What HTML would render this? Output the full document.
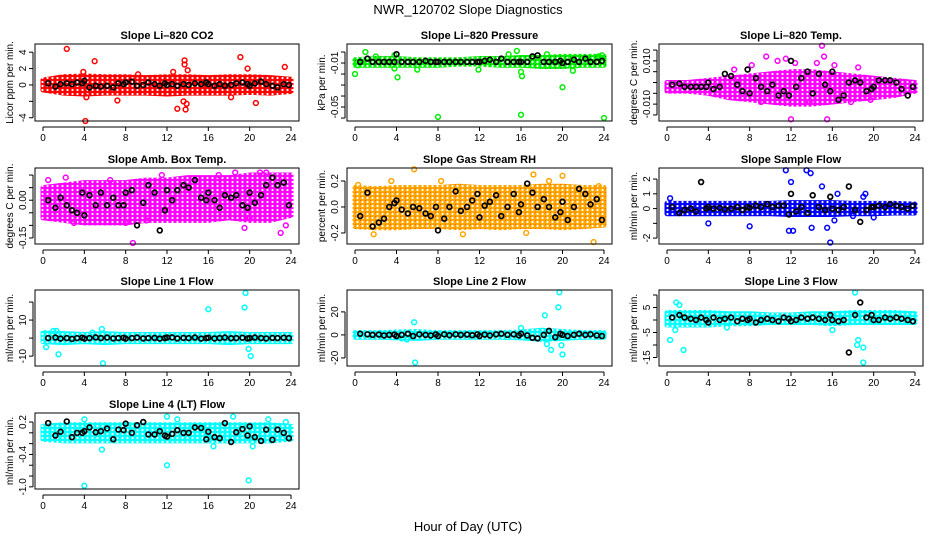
<!DOCTYPE html>
<html><head><meta charset="utf-8"><style>
body{margin:0;background:#fff;}
svg{display:block;font-family:"Liberation Sans",sans-serif;}
</style></head><body>
<svg id="chart" width="936" height="540" viewBox="0 0 936 540" xmlns="http://www.w3.org/2000/svg">
<defs id="defs"></defs>
<rect width="936" height="540" fill="#fff"/>
<text x="468" y="14" font-size="13" text-anchor="middle">NWR_120702  Slope Diagnostics</text>
<text x="468" y="531" font-size="13" text-anchor="middle">Hour of Day (UTC)</text>
<g id="plots"></g>
</svg>
<script>
const bandHours=[0,2,4,6,8,10,12,14,16,18,20,22,24];
const blackHours=[0.5,1.2,1.7,2.3,2.8,3.3,3.8,4.0,4.5,5.1,5.6,6.2,6.8,7.3,7.8,8.0,8.6,9.1,9.7,10.2,10.8,11.3,11.8,12.0,12.5,13.0,13.6,14.1,14.7,15.3,15.8,16.0,16.6,17.1,17.6,18.2,18.7,19.3,19.8,20.0,20.5,21.1,21.6,22.2,22.7,23.3,23.8];
const xTicks=[0,4,8,12,16,20,24];

const co2Lo=[-0.6,-1,-1.1,-1,-1,-1,-1.1,-1,-1,-1,-0.9,-1,-0.8];
const co2Hi=[0.6,1,1.1,1,1,0.9,1,1,0.9,1,1,0.9,0.7];
const co2OutX=[2.3,4.1,5,19.1,13.7,13.7,13.8,13,20.6,7.2,4.2,23.4,9.2,12.6,19.8,18.2,14,13.6,13.9,3.9];
const co2OutY=[4.4,-4.4,2.9,3.4,3.0,2.5,-3.0,-2.9,-2.2,-1.9,-1.5,2.2,1.3,1.6,2.0,-1.5,1.8,-2.0,-2.3,1.6];
const co2Black=[0.2,-0.2,0.1,0.2,0.1,0.3,0.2,0.5,-0.3,-0.1,-0.2,-0.1,-0.3,0.2,0.1,0.3,0.4,-0.1,0,0.3,0.1,-0.1,0.2,0,0.1,-0.1,0.1,0,0.2,0.1,0.3,0.1,-0.1,0.1,-0.1,0,0.2,0.3,0.1,-0.1,0.2,0.4,0.1,-0.1,-0.3,0.1,0];

const presLo=[-0.012,-0.012,-0.012,-0.012,-0.012,-0.011,-0.011,-0.012,-0.012,-0.013,-0.013,-0.012,-0.012];
const presHi=[-0.007,-0.006,-0.006,-0.007,-0.007,-0.007,-0.006,-0.006,-0.005,-0.005,-0.004,-0.004,-0.004];
const presOutX=[0,0.3,3.8,4.1,8,16,24,20,6,11.9,16,16.1,21,2,3.8,1,15.6,14.8,18.5,23.8,23.5];
const presOutY=[-0.02,-0.012,-0.015,-0.023,-0.059,-0.057,-0.060,-0.032,-0.016,-0.016,-0.018,-0.022,-0.017,-0.004,-0.003,0.0,0.001,-0.002,-0.002,-0.003,-0.004];
const presBlack=[-0.009,-0.006,-0.009,-0.009,-0.009,-0.009,-0.009,-0.002,-0.009,-0.009,-0.009,-0.009,-0.008,-0.009,-0.009,-0.009,-0.009,-0.009,-0.009,-0.009,-0.009,-0.009,-0.009,-0.009,-0.008,-0.007,-0.009,-0.006,-0.009,-0.009,-0.009,-0.009,-0.009,-0.004,-0.003,-0.009,-0.009,-0.009,-0.008,-0.010,-0.009,-0.007,-0.009,-0.006,-0.009,-0.009,-0.008];

const tempLo=[-0.004,-0.004,-0.005,-0.007,-0.008,-0.009,-0.010,-0.010,-0.009,-0.008,-0.007,-0.006,-0.004];
const tempHi=[0.000,0.000,0.001,0.002,0.003,0.004,0.005,0.005,0.004,0.003,0.002,0.001,0.000];
const tempOutX=[15,12,15.5,15.2,9.6,11.5,8.2,14.5,16.2,13.8,19.7,17.8,9.1,10.7,12.4,6.5,18.5];
const tempOutY=[0.017,-0.017,-0.017,0.012,0.012,0.011,0.008,0.009,0.008,-0.009,-0.008,-0.009,-0.009,0.010,0.009,0.006,0.007];
const tempBlack=[-0.001,-0.0005,-0.002,-0.002,-0.002,-0.002,-0.002,0.000,-0.003,-0.002,0.004,0.003,-0.001,-0.004,0.006,-0.005,0.002,-0.002,-0.004,-0.001,-0.006,-0.004,-0.006,0.010,-0.002,0.002,0.005,-0.005,0.004,-0.001,-0.004,0.005,-0.008,-0.006,0.000,0.001,0.000,-0.004,-0.003,-0.002,0.001,0.001,0.001,0.000,-0.003,-0.006,-0.002];

const ambLo=[-0.07,-0.08,-0.09,-0.09,-0.09,-0.08,-0.08,-0.08,-0.08,-0.07,-0.08,-0.08,-0.06];
const ambHi=[0.05,0.06,0.07,0.07,0.07,0.08,0.08,0.09,0.09,0.09,0.10,0.10,0.10];
const ambOutX=[0.5,2.2,8.7,11.5,18.6,21,21.6,23.5,23,6.5,10,8,3,20,19.5,17];
const ambOutY=[0.08,0.09,-0.17,0.10,0.11,0.11,0.11,-0.10,-0.13,0.08,-0.08,-0.09,-0.09,-0.07,-0.11,0.1];
const ambBlack=[0,-0.03,0.01,-0.02,-0.04,-0.05,0.03,-0.06,0.02,-0.02,0.03,-0.02,0.01,-0.02,-0.02,0.03,0.04,-0.1,-0.01,0.06,0.03,-0.12,-0.04,0.04,0.00,0.04,0.06,0.05,0.08,0.01,0.00,0.03,0.00,-0.03,0.02,0.01,0.02,-0.02,-0.03,0.03,-0.01,0.02,0.06,0.09,0.06,0.07,-0.02];

const rhLo=[-0.15,-0.16,-0.16,-0.15,-0.15,-0.16,-0.15,-0.16,-0.15,-0.15,-0.16,-0.15,-0.14];
const rhHi=[0.15,0.14,0.15,0.15,0.15,0.16,0.15,0.15,0.15,0.16,0.16,0.15,0.15];
const rhOutX=[5.7,8.3,10.4,1.8,17.2,20,23,18.7,23.5,16.5,3.5,0.3];
const rhOutY=[0.29,0.2,-0.21,-0.21,0.25,0.24,-0.27,0.2,0.16,-0.2,0.2,0.17];
const rhBlack=[-0.07,0.11,-0.15,-0.12,-0.09,0.00,0.03,0.05,-0.02,-0.05,0.00,-0.01,-0.05,-0.07,0.00,-0.18,-0.09,0.00,0.12,-0.03,0.00,0.05,0.10,-0.08,0.01,0.04,0.09,-0.07,0.00,0.10,-0.04,0.02,0.18,0.11,0.00,0.06,0.00,-0.08,-0.04,0.04,-0.10,0.00,0.14,0.10,0.02,0.06,-0.10];

const sfLo=[-0.35,-0.35,-0.35,-0.35,-0.35,-0.35,-0.4,-0.4,-0.4,-0.35,-0.35,-0.3,-0.3];
const sfHi=[0.35,0.35,0.35,0.35,0.35,0.35,0.4,0.4,0.4,0.35,0.35,0.35,0.3];
const sfOutX=[0.3,4,8,11.5,12,11.8,12.2,13.5,13.9,15,15.5,15.8,16.2,16.5,19.2,19,14,18,20];
const sfOutY=[0.7,-1,-1.2,2.6,1.8,-1.5,-1.5,2.6,2.4,1.5,-1.3,-2.3,-0.8,1,1,0.8,-1.3,-0.5,-0.6];
const sfBlack=[0.1,-0.3,-0.1,0,-0.2,1.8,0,0.1,0,0.05,-0.05,0,0.1,-0.1,0.1,0.05,0.2,0.1,0.3,0.1,0.2,0.2,-0.4,1.0,-0.2,0.1,-0.3,0.9,0.1,-0.1,0.8,0,-0.1,0.1,1.5,-0.1,-0.9,-0.1,0.1,0.1,0.2,0.1,0.3,0.2,0.1,0,0.2];

const l1Lo=[-2,-2.5,-2,-2.5,-2,-2,-2,-2,-2,-2.5,-2,-2,-2];
const l1Hi=[3,2.5,2,2.5,2,2,2,2,2,2.5,2,2,2];
const l1OutX=[5.8,5.7,16,19.5,19.6,19.9,20.1,1.5,0.3,4.8,1,1.3];
const l1OutY=[-14,5,16,17,25,-6,-10,-9,-5,3,4,4];
const l1Black=[0,0.3,-0.3,0,-0.5,0,0.2,-0.3,0,0.4,0,0.3,-0.2,0,0.2,-0.3,0,0.3,-0.2,0,0.1,-0.3,0,0.3,0.4,-0.2,0.1,0,0.3,-0.3,0,0.2,-0.2,0,0.3,-0.1,0,0.2,-0.2,0,0.3,0,-0.2,0.1,0,0.2,0];

const l2Lo=[-2,-2,-2.5,-3,-2,-2,-2,-2,-2.5,-4,-3,-2,-2];
const l2Hi=[2,2,2.5,3,2,2,2,2,2.5,4,3,2,2];
const l2OutX=[5.8,5.7,18.3,19.6,19.7,20,19.9,18.9,18.5,16,5,4.5];
const l2OutY=[-24,11,17,24,37,-17,-9,-13,-8,6,-4,-3];
const l2Black=[1,0.5,0,0.3,-0.5,0,0.3,-1,0,1,-1,0.5,0,-0.5,0.5,-1,0.5,-0.3,0.5,0,0.3,-0.3,0.5,-1,0.3,-0.5,0.5,1,0,0.5,-0.5,1,-0.5,-2.5,-3,0,3.5,-2,1,0,-1,0,1,0,0.5,-0.5,-1];

const l3Lo=[-2,-2,-2,-1.5,-1.5,-1,-1,-1,-1.5,-1,-1,-1,-1];
const l3Hi=[3,3,3,2.5,2.5,2,2,2.5,2.5,3,3,3,2.5];
const l3OutX=[18.2,0.9,1.2,0.3,1.6,18.5,18.4,19,19,0.8,16,5.8];
const l3OutY=[11,7,6,-8,-12,-8,-10,-11,-17,-4,-4,-3];
const l3Black=[1,2,1,0.5,0,1,0,-1,1,0,0.5,1,-0.5,0.5,0,0.5,-1,0,0.5,0,-0.5,1,0.5,-0.5,0,1,0.5,1,0.5,0,2,0,-0.5,0,-13,2,7,1,2,0,0,1,0.5,1,0.5,0,-0.5];

const l4Lo=[-0.12,-0.15,-0.15,-0.15,-0.15,-0.15,-0.15,-0.15,-0.15,-0.15,-0.15,-0.15,-0.12];
const l4Hi=[0.12,0.15,0.15,0.15,0.15,0.15,0.15,0.15,0.15,0.15,0.15,0.15,0.12];
const l4OutX=[4,19.9,12,5.7,12,18.4,4,13,21.8,23.5,16.5,20.3];
const l4OutY=[-0.98,-0.88,-0.6,-0.31,0.3,0.3,0.25,0.25,0.25,0.2,-0.25,-0.25];
const l4Black=[0.18,-0.05,0.02,0.21,-0.08,0.0,0.0,0.03,0.1,0.01,0.03,0.08,-0.12,0.06,0.05,0.17,0.0,0.14,0.2,-0.03,-0.03,0.03,-0.05,-0.07,-0.02,0.05,0.0,0.0,0.1,0.09,-0.12,0.02,-0.08,-0.1,0.18,-0.17,0.01,0.07,-0.05,0.12,-0.08,-0.15,0.06,-0.13,0.06,0.0,-0.1];

const co2Ticks=[-4,-2,0,2,4], co2Labels=["-4","","0","2","4"];
const presTicks=[0,-0.01,-0.02,-0.03,-0.04,-0.05,-0.06], presLabels=["","-0.01","","","","-0.05",""];
const tempTicks=[0.015,0.010,0.005,0,-0.005,-0.010,-0.015], tempLabels=["","0.010","","","","-0.010",""];
const ambTicks=[0.10,0.05,0,-0.05,-0.10,-0.15], ambLabels=["","","0.00","","","-0.15"];
const rhTicks=[0.2,0,-0.2], rhLabels=["0.2","0.0","-0.2"];
const sfTicks=[2,1,0,-1,-2], sfLabels=["2","1","0","","-2"];
const l1Ticks=[20,10,0,-10], l1Labels=["","10","","-10"];
const l2Ticks=[20,0,-20], l2Labels=["20","0","-20"];
const l3Ticks=[10,5,0,-5,-10,-15], l3Labels=["","5","","-5","","-15"];
const l4Ticks=[0.2,0,-0.2,-0.4,-0.6,-0.8,-1.0], l4Labels=["0.2","","","-0.4","","","-1.0"];

const cols=[[35,299],[347,612],[659,923]];
const rows=[[44,121],[168,244],[290,366],[413,489]];
const panels=[
 {id:"co2",title:"Slope Li\u2013820 CO2",yl:"Licor ppm per min.",c:0,r:0,ymin:-4.4,ymax:5.0,col:"#ff0000",col2:"#ff0000",lo:co2Lo,hi:co2Hi,ox:co2OutX,oy:co2OutY,bk:co2Black,t:co2Ticks,tl:co2Labels},
 {id:"pressure",title:"Slope Li\u2013820 Pressure",yl:"kPa per min.",c:1,r:0,ymin:-0.0627,ymax:0.0073,col:"#00ee00",col2:"#004400",lo:presLo,hi:presHi,ox:presOutX,oy:presOutY,bk:presBlack,t:presTicks,tl:presLabels},
 {id:"temp",title:"Slope Li\u2013820 Temp.",yl:"degrees C per min.",c:2,r:0,ymin:-0.0178,ymax:0.0178,col:"#ff00ff",col2:"#ff00ff",lo:tempLo,hi:tempHi,ox:tempOutX,oy:tempOutY,bk:tempBlack,t:tempTicks,tl:tempLabels},
 {id:"amb-box-temp",title:"Slope Amb. Box Temp.",yl:"degrees C per min.",c:0,r:1,ymin:-0.174,ymax:0.128,col:"#ff00ff",col2:"#ff00ff",lo:ambLo,hi:ambHi,ox:ambOutX,oy:ambOutY,bk:ambBlack,t:ambTicks,tl:ambLabels},
 {id:"gas-rh",title:"Slope Gas Stream RH",yl:"percent per min.",c:1,r:1,ymin:-0.285,ymax:0.3,col:"#ffa500",col2:"#ee2200",lo:rhLo,hi:rhHi,ox:rhOutX,oy:rhOutY,bk:rhBlack,t:rhTicks,tl:rhLabels},
 {id:"sample-flow",title:"Slope Sample Flow",yl:"ml/min per min.",c:2,r:1,ymin:-2.4,ymax:2.75,col:"#0000ff",col2:"#0000ff",lo:sfLo,hi:sfHi,ox:sfOutX,oy:sfOutY,bk:sfBlack,t:sfTicks,tl:sfLabels},
 {id:"line1",title:"Slope Line 1 Flow",yl:"ml/min per min.",c:0,r:2,ymin:-15.5,ymax:26.7,col:"#00ffff",col2:"#00ffff",lo:l1Lo,hi:l1Hi,ox:l1OutX,oy:l1OutY,bk:l1Black,t:l1Ticks,tl:l1Labels},
 {id:"line2",title:"Slope Line 2 Flow",yl:"ml/min per min.",c:1,r:2,ymin:-27,ymax:39,col:"#00ffff",col2:"#00ffff",lo:l2Lo,hi:l2Hi,ox:l2OutX,oy:l2OutY,bk:l2Black,t:l2Ticks,tl:l2Labels},
 {id:"line3",title:"Slope Line 3 Flow",yl:"ml/min per min.",c:2,r:2,ymin:-18.4,ymax:12,col:"#00ffff",col2:"#00ffff",lo:l3Lo,hi:l3Hi,ox:l3OutX,oy:l3OutY,bk:l3Black,t:l3Ticks,tl:l3Labels},
 {id:"line4",title:"Slope Line 4 (LT) Flow",yl:"ml/min per min.",c:0,r:3,ymin:-1.04,ymax:0.367,col:"#00ffff",col2:"#00ffff",lo:l4Lo,hi:l4Hi,ox:l4OutX,oy:l4OutY,bk:l4Black,t:l4Ticks,tl:l4Labels}
];
const NS="http://www.w3.org/2000/svg";
function mk(tag,attrs,parent){const e=document.createElementNS(NS,tag);for(const k in attrs)e.setAttribute(k,attrs[k]);parent.appendChild(e);return e;}
const root=document.getElementById('plots');
const defs=document.getElementById('defs');
panels.forEach(p=>{
 const [L,R]=cols[p.c],[T,B]=rows[p.r];
 const xs=h=>L+8+h/24*(R-L-16);
 const ys=v=>B-(v-p.ymin)/(p.ymax-p.ymin)*(B-T);
 const pat=mk('pattern',{id:'pat-'+p.id,width:5,height:4,patternUnits:'userSpaceOnUse'},defs);
 mk('rect',{width:5,height:4,fill:p.col},pat);
 mk('circle',{cx:2.5,cy:2,r:1.1,fill:'#fff'},pat);
 mk('circle',{cx:0,cy:0,r:0.8,fill:p.col2},pat);
 const g=mk('g',{},root);
 
 
 const ti=mk('text',{x:(L+R)/2,y:T-5,'font-size':11,'font-weight':'bold','text-anchor':'middle'},g);ti.textContent=p.title;
 
 
 let pts=p.lo.map((v,i)=>xs(bandHours[i])+','+ys(p.hi[i]));
 for(let i=p.lo.length-1;i>=0;i--)pts.push(xs(bandHours[i])+','+ys(p.lo[i]));
 const band=mk('polygon',{points:pts.join(' '),fill:'url(#pat-'+p.id+')',stroke:'url(#pat-'+p.id+')','stroke-width':5,'stroke-linejoin':'round'},g);
 
 
 p.ox.forEach((h,i)=>{const c=mk('circle',{cx:xs(h),cy:ys(p.oy[i]),r:2.4,fill:'none',stroke:p.col,'stroke-width':1.5},g);
  
  });
 p.bk.forEach((v,i)=>{const c=mk('circle',{cx:xs(blackHours[i]),cy:ys(v),r:2.4,fill:'none',stroke:'#000','stroke-width':1.7},g);
  
  });
 const box=mk('rect',{x:L,y:T,width:R-L,height:B-T,fill:'none',stroke:'#000','stroke-width':1},g);
 
 
 mk('line',{x1:xs(0),x2:xs(24),y1:B+6,y2:B+6,stroke:'#000'},g);
 xTicks.forEach(h=>{mk('line',{x1:xs(h),x2:xs(h),y1:B+6,y2:B+10,stroke:'#000'},g);
  const t=mk('text',{x:xs(h),y:B+20,'font-size':10,'text-anchor':'middle'},g);t.textContent=h;
  
  });
 const yv=p.t.map(ys);
 mk('line',{x1:L-2,x2:L-2,y1:Math.min(...yv),y2:Math.max(...yv),stroke:'#000'},g);
 p.t.forEach((v,i)=>{const y=ys(v);mk('line',{x1:L-6,x2:L-2,y1:y,y2:y,stroke:'#000'},g);
  if(p.tl[i]){const t=mk('text',{x:L-9,y:y,'font-size':10,'text-anchor':'middle',transform:`rotate(-90 ${L-9} ${y})`},g);t.textContent=p.tl[i];
  
  }});
 const yt=mk('text',{x:L-22,y:(T+B)/2,'font-size':10,'text-anchor':'middle',transform:`rotate(-90 ${L-22} ${(T+B)/2})`},g);yt.textContent=p.yl;
 
 
});
</script>
</body></html>
